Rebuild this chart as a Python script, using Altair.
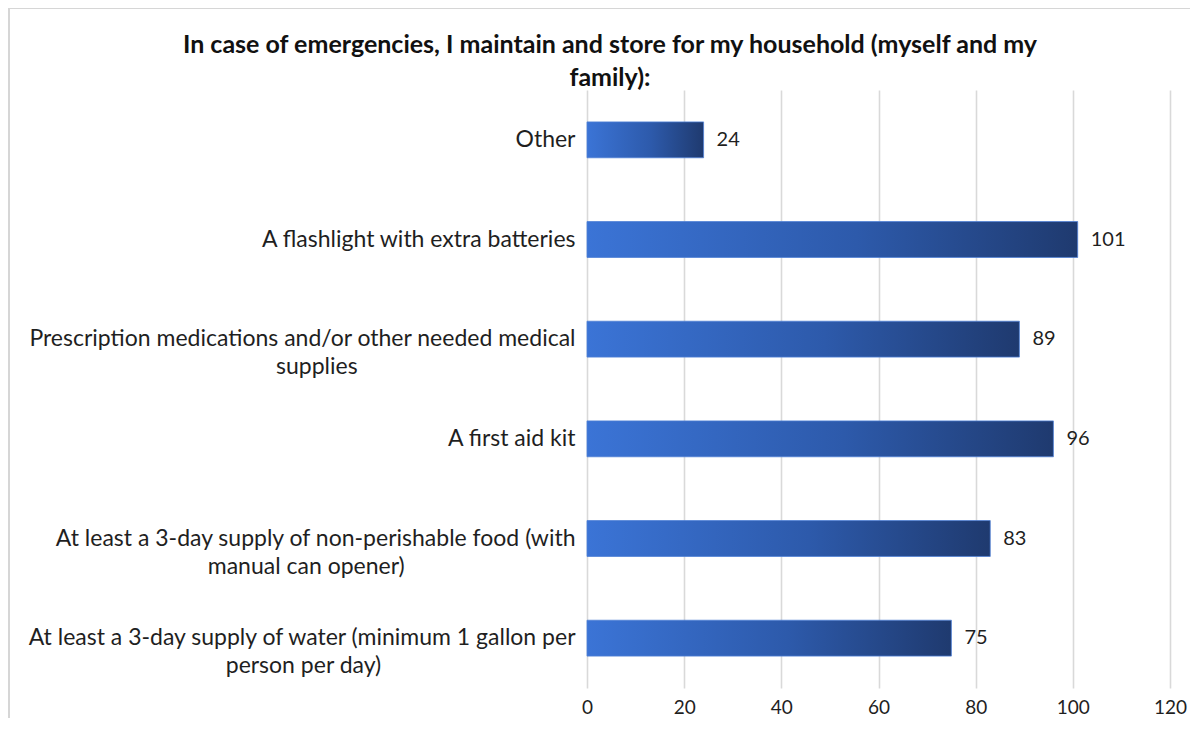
import altair as alt
import pandas as pd

categories = [
    "Other",
    "A flashlight with extra batteries",
    "Prescription medications and/or other needed medical\nsupplies",
    "A first aid kit",
    "At least a 3-day supply of non-perishable food (with\nmanual can opener)",
    "At least a 3-day supply of water (minimum 1 gallon per\nperson per day)",
]
counts = [24, 101, 89, 96, 83, 75]
x_ticks = [0, 20, 40, 60, 80, 100, 120]
title_lines = [
    "In case of emergencies, I maintain and store for my household (myself and my",
    "family):",
]

df = pd.DataFrame({"item": categories, "count": counts})

FONT = "Lato"
TXT = "#1f1f1f"

gradient = alt.Gradient(
    gradient="linear",
    stops=[
        alt.GradientStop(color="#3b74d6", offset=0),
        alt.GradientStop(color="#2d5aab", offset=0.55),
        alt.GradientStop(color="#1f3a6f", offset=1),
    ],
    x1=0, x2=1, y1=0, y2=0,
)

NB = "\u00a0"
ZW = "\u200b"
L1 = "split(datum.label, '\\n')[0]"
L2 = "split(datum.label, '\\n')[1]"
label_expr = (
    "length(split(datum.label, '\\n')) > 1 ? "
    f"[{L1}, pad({L2}, floor(length({L2}) + 0.86 * (length({L1}) - length({L2}))), '{NB}') + '{ZW}'] "
    ": datum.label"
)

y_enc = alt.Y(
    "item:N",
    sort=categories,
    title=None,
    scale=alt.Scale(paddingInner=0.64, paddingOuter=0.32),
    axis=alt.Axis(
        labelExpr=label_expr,
        labelFont=FONT,
        labelFontSize=23,
        labelColor=TXT,
        labelAlign="right",
        labelBaseline="middle",
        labelLineHeight=28,
        labelPadding=12,
        labelLimit=0,
        ticks=False,
        domain=False,
        grid=False,
    ),
)

x_enc = alt.X(
    "count:Q",
    title=None,
    scale=alt.Scale(domain=[0, 120], nice=False),
    axis=alt.Axis(
        values=x_ticks,
        labelFont=FONT,
        labelFontSize=19,
        labelColor=TXT,
        labelPadding=10,
        labelFlush=False,
        ticks=False,
        domain=False,
        grid=True,
        gridColor="#d9d9d9",
        gridWidth=1.6,
    ),
)

bars = alt.Chart(df).mark_bar(
    color=gradient, stroke="#4f80d6", strokeWidth=0.8
).encode(x=x_enc, y=y_enc)

values = alt.Chart(df).mark_text(
    align="left", baseline="middle", dx=13, font=FONT, fontSize=20, color=TXT
).encode(
    x=alt.X("count:Q"),
    y=alt.Y("item:N", sort=categories),
    text=alt.Text("count:Q"),
)

one = alt.Data(values=[{"f": 1}])

frame = alt.Chart(one).mark_rect(
    fill=None, stroke="#d6d6d6", strokeWidth=2
).encode(
    x=alt.value(-578), x2=alt.value(700),
    y=alt.value(-82), y2=alt.value(700),
)

title1 = alt.Chart(one).mark_text(
    font=FONT, fontSize=25, fontWeight="bold", color="#111111",
    align="center", baseline="middle",
).encode(x=alt.value(23), y=alt.value(-45), text=alt.value(title_lines[0]))

title2 = alt.Chart(one).mark_text(
    font=FONT, fontSize=25, fontWeight="bold", color="#111111",
    align="center", baseline="middle",
).encode(x=alt.value(23), y=alt.value(-12), text=alt.value(title_lines[1]))

chart = alt.layer(frame, bars, values, title1, title2).properties(
    width=583,
    height=598,
    autosize=alt.AutoSizeParams(type="none"),
    padding={"left": 579, "top": 82, "right": 20, "bottom": 30},
).configure(background="white").configure_view(stroke=None)

chart.save("out.html", embed_options={"renderer": "svg", "actions": False})
